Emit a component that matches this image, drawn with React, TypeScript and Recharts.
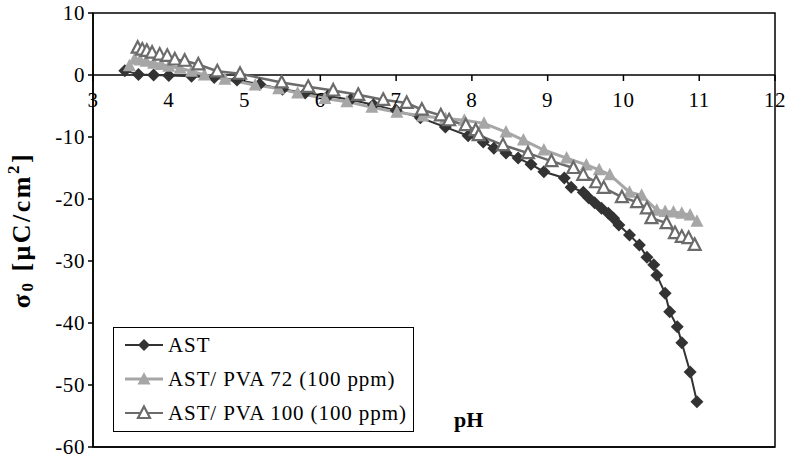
import { LineChart, Line, XAxis, YAxis, ReferenceLine, ReferenceArea, ReferenceDot, Legend } from "recharts";

const FONT = "'Liberation Serif', 'Times New Roman', serif";

// AST
const astPH = [3.42, 3.6, 3.8, 4.0, 4.3, 4.6, 4.9, 5.2, 5.5, 5.8, 6.1, 6.4, 6.7, 7.0, 7.32, 7.65, 7.95, 8.15, 8.29, 8.45, 8.61, 8.78, 8.95, 9.22, 9.31, 9.47, 9.54, 9.62, 9.71, 9.8, 9.87, 9.94, 10.08, 10.21, 10.31, 10.4, 10.44, 10.55, 10.61, 10.71, 10.77, 10.88, 10.97];
const astSigma = [0.7, 0.1, 0.0, -0.1, -0.2, -0.4, -0.8, -1.5, -2.3, -2.9, -3.4, -4.0, -4.8, -5.7, -6.9, -8.4, -9.8, -10.8, -11.8, -12.6, -13.4, -14.4, -15.6, -16.6, -18.1, -18.9, -19.8, -20.6, -21.5, -22.3, -23.1, -24.2, -25.8, -27.4, -29.4, -30.6, -32.3, -35.2, -38.2, -40.6, -43.2, -47.9, -52.7];

// AST/ PVA 72 (100 ppm)
const pva72PH = [3.48, 3.55, 3.62, 3.7, 3.8, 3.9, 4.0, 4.15, 4.3, 4.47, 4.74, 5.14, 5.45, 5.7, 6.06, 6.35, 6.68, 7.01, 7.35, 7.65, 7.9, 8.16, 8.45, 8.68, 8.95, 9.25, 9.51, 9.68, 9.82, 10.08, 10.24, 10.44, 10.55, 10.66, 10.77, 10.88, 10.97];
const pva72Sigma = [1.5, 2.6, 2.4, 2.2, 1.9, 1.7, 1.4, 1.1, 0.6, 0.0, -0.7, -1.6, -2.2, -2.9, -3.8, -4.3, -5.2, -6.0, -6.6, -7.0, -7.3, -7.8, -9.2, -10.5, -12.1, -13.4, -14.5, -15.3, -16.1, -18.9, -19.4, -21.8, -22.0, -22.1, -22.3, -22.6, -23.6];

// AST/ PVA 100 (100 ppm)
const pva100PH = [3.59, 3.65, 3.71, 3.78, 3.88, 3.98, 4.08, 4.21, 4.39, 4.64, 4.94, 5.49, 5.84, 6.17, 6.5, 6.83, 7.14, 7.34, 7.59, 7.7, 7.92, 8.05, 8.09, 8.41, 8.74, 9.05, 9.34, 9.47, 9.64, 9.74, 9.98, 10.18, 10.31, 10.37, 10.57, 10.68, 10.77, 10.86, 10.94];
const pva100Sigma = [4.4, 4.1, 3.9, 3.6, 3.3, 3.1, 2.5, 2.3, 1.7, 0.6, 0.2, -1.2, -1.9, -2.5, -3.2, -4.0, -4.5, -5.6, -6.5, -7.3, -8.1, -8.9, -9.7, -11.3, -12.6, -13.9, -15.0, -16.1, -17.3, -18.2, -19.7, -20.5, -21.5, -23.1, -23.9, -25.5, -26.1, -26.3, -27.4];

const seriesNames = ["AST", "AST/ PVA 72 (100 ppm)", "AST/ PVA 100 (100 ppm)"];
const xTicks = [3, 4, 5, 6, 7, 8, 9, 10, 11, 12];
const yTicks = [-60, -50, -40, -30, -20, -10, 0, 10];

const zip = (xs: number[], ys: number[]) => xs.map((x, i) => ({ pH: x, sigma: ys[i] }));
const astData = zip(astPH, astSigma);
const pva72Data = zip(pva72PH, pva72Sigma);
const pva100Data = zip(pva100PH, pva100Sigma);

const Diamond = (p: any) => {
  const { cx, cy, size = 6.5 } = p;
  if (cx == null || cy == null) return null;
  return <path key={p.index} d={`M${cx},${cy - size}L${cx + size},${cy}L${cx},${cy + size}L${cx - size},${cy}Z`} fill="#333" />;
};

const FilledTri = (p: any) => {
  const { cx, cy } = p;
  if (cx == null || cy == null) return null;
  return <path key={p.index} d={`M${cx},${cy - 7}L${cx + 6.5},${cy + 5.5}L${cx - 6.5},${cy + 5.5}Z`} fill="#a6a6a6" />;
};

const OpenTri = (p: any) => {
  const { cx, cy } = p;
  if (cx == null || cy == null) return null;
  return <path key={p.index} d={`M${cx},${cy - 6.5}L${cx + 6},${cy + 5}L${cx - 6},${cy + 5}Z`} fill="#fff" stroke="#6b6b6b" strokeWidth={2.2} strokeLinejoin="miter" />;
};

const MARKERS: Record<string, any> = {
  [seriesNames[0]]: Diamond,
  [seriesNames[1]]: FilledTri,
  [seriesNames[2]]: OpenTri,
};

const LegendBox = ({ payload }: any) => {
  const items = [...(payload || [])].sort((a: any, b: any) => seriesNames.indexOf(a.value) - seriesNames.indexOf(b.value));
  return (
    <div style={{ border: "1.5px solid #000", boxSizing: "border-box", width: 301, height: 105, background: "#fff", fontFamily: FONT, fontSize: 21 }}>
      {items.map((e: any) => {
        const M = MARKERS[e.value];
        return (
          <div key={e.value} style={{ height: 34, display: "flex", alignItems: "center" }}>
            <svg width={52} height={20} style={{ marginLeft: 11 }}>
              <line x1={0} y1={10} x2={38} y2={10} stroke={e.color} strokeWidth={e.value === seriesNames[1] ? 3 : 2} />
              <M cx={19} cy={10} size={6} />
            </svg>
            <span style={{ marginLeft: -9, letterSpacing: 0.9 }}>{e.value}</span>
          </div>
        );
      })}
    </div>
  );
};

const YLabel = (props: any) => {
  const vb = props.viewBox || {};
  const x = vb.x + 21;
  const y = vb.y + vb.height / 2;
  return (
    <text x={x} y={y} transform={`rotate(-90 ${x} ${y})`} textAnchor="middle" dominantBaseline="central" fontFamily={FONT} fontSize={26} fontWeight="bold" fill="#000" letterSpacing={2.5}>
      <tspan>σ</tspan>
      <tspan dy={6} fontSize={17}>0</tspan>
      <tspan dy={-6}> [μC/cm</tspan>
      <tspan dy={-8} fontSize={17}>2</tspan>
      <tspan dy={8}>]</tspan>
    </text>
  );
};

const PHLabel = (props: any) => {
  const vb = props.viewBox || {};
  return (
    <text x={vb.x + vb.width * 0.551} y={vb.y - 20} textAnchor="middle" fontFamily={FONT} fontSize={22} fontWeight="bold" fill="#000">pH</text>
  );
};

const xTickShape = (label: number) => (p: any) => (
  <g>
    <line x1={p.cx} y1={p.cy} x2={p.cx} y2={p.cy + 6} stroke="#000" strokeWidth={1.5} />
    <text x={p.cx} y={p.cy + 32} textAnchor="middle" fontFamily={FONT} fontSize={21} fill="#000" letterSpacing={0.6}>{label}</text>
  </g>
);

export default function App() {
  return (
    <div style={{ position: "absolute", left: 0, top: 0 }}>
      <LineChart width={787} height={461} margin={{ top: 13, right: 12, bottom: 0, left: 0 }} style={{ background: "#fff" }}>
        <XAxis type="number" dataKey="pH" domain={[3, 12]} ticks={xTicks} tick={false} tickLine={false} height={14} axisLine={{ stroke: "#000", strokeWidth: 1.5 }} allowDuplicatedCategory={false} label={<PHLabel />} />
        <YAxis type="number" dataKey="sigma" domain={[-60, 10]} ticks={yTicks} width={93} tickSize={5} tickMargin={3} axisLine={{ stroke: "#000", strokeWidth: 1.5 }} tickLine={{ stroke: "#000", strokeWidth: 1.5 }} tick={{ fontFamily: FONT, fontSize: 21, fill: "#000", letterSpacing: 0.6 }} label={<YLabel />} />
        <ReferenceArea x1={3} x2={12} y1={-60} y2={10} fill="none" fillOpacity={0} stroke="#000" strokeWidth={1.5} />
        <ReferenceLine y={0} stroke="#000" strokeWidth={1.5} />
        {xTicks.map((t) => (
          <ReferenceDot key={t} x={t} y={0} r={0} shape={xTickShape(t)} />
        ))}
        <Line data={astData} dataKey="sigma" name={seriesNames[0]} type="linear" stroke="#333" strokeWidth={2} dot={Diamond} isAnimationActive={false} />
        <Line data={pva72Data} dataKey="sigma" name={seriesNames[1]} type="linear" stroke="#a6a6a6" strokeWidth={3} dot={FilledTri} isAnimationActive={false} />
        <Line data={pva100Data} dataKey="sigma" name={seriesNames[2]} type="linear" stroke="#6b6b6b" strokeWidth={2.5} dot={OpenTri} isAnimationActive={false} />
        <Legend content={<LegendBox />} layout="vertical" align="center" verticalAlign="middle" wrapperStyle={{ position: "absolute", left: 113, top: 327, width: 301, height: 105, bottom: "auto" }} />
      </LineChart>
    </div>
  );
}
